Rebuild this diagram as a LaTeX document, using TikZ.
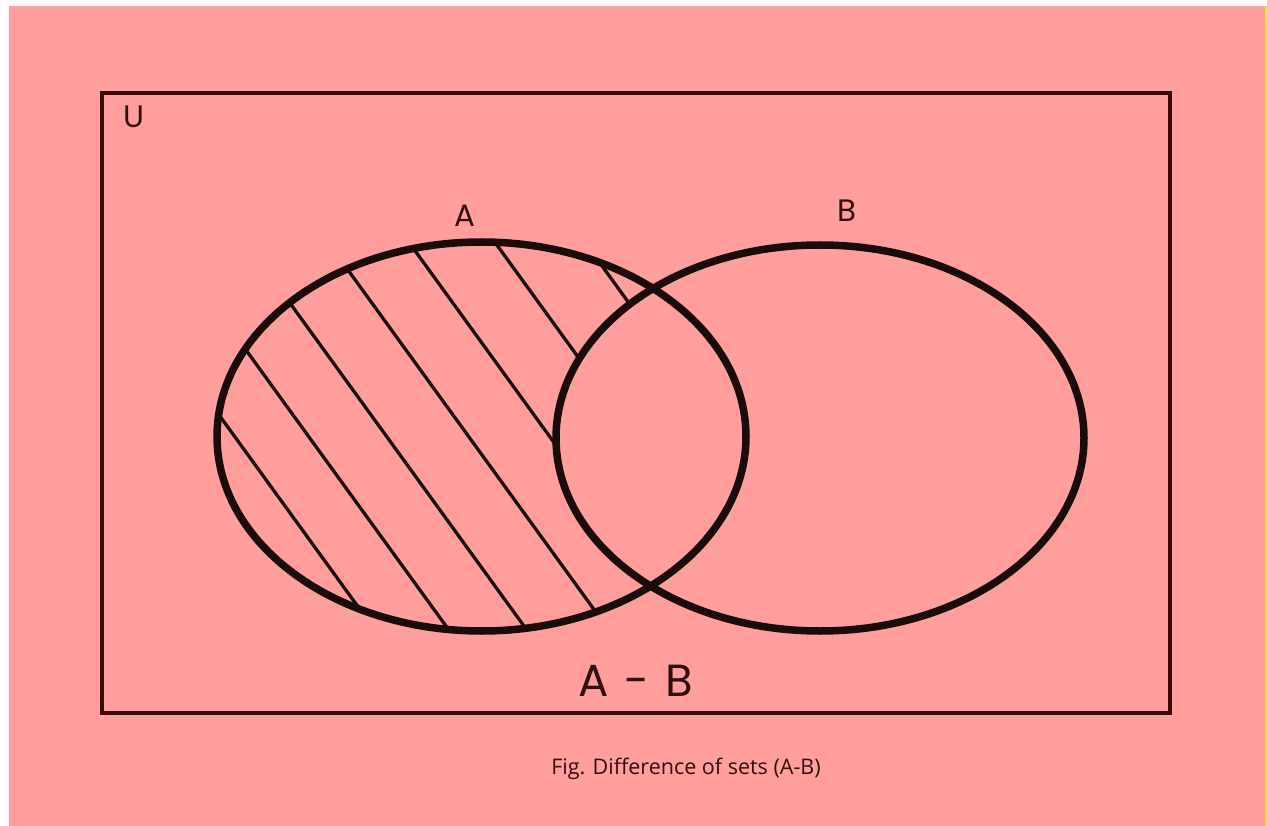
\documentclass[tikz,border=0pt]{standalone}
\usepackage{fontspec}
\setmainfont{Open Sans}
\newfontfamily\geofont{Poppins}
\definecolor{bgpink}{RGB}{255,158,156}
\definecolor{inkdark}{RGB}{26,12,10}
\definecolor{framebrown}{RGB}{58,10,6}
\definecolor{textbrown}{RGB}{50,14,14}
\definecolor{edgeyellow}{RGB}{250,220,80}
\begin{document}
\begin{tikzpicture}[x=1pt,y=-1pt,
  setline/.style={draw=inkdark,line width=7.5pt},
  hatchline/.style={draw=inkdark,line width=3.3pt},
  framebox/.style={draw=framebrown,line width=3.5pt},
  setlabel/.style={text=textbrown,font=\geofont\fontsize{31}{34}\selectfont,inner sep=0pt},
  biglabel/.style={text=textbrown,font=\geofont\fontsize{45}{48}\selectfont,inner sep=0pt},
  caption/.style={text=textbrown,font=\fontsize{21.5}{24}\selectfont,inner sep=0pt}]
\useasboundingbox (0,0) rectangle (1267,826);
\fill[white] (0,0) rectangle (1267,826);
\fill[bgpink] (9,6) rectangle (1265,826);
\fill[edgeyellow] (1265,6) rectangle (1267,826);
% universe
\draw[framebox] (102,93) rectangle (1170,713);
\coordinate (cA) at (481.5,436.5);
\coordinate (cB) at (820,438);
% hatching A - B
\begin{scope}
  \clip (cA) ellipse [x radius=264.5, y radius=194.5];
  \begin{scope}[even odd rule]
    \clip (0,0) rectangle (1267,826) (cB) ellipse [x radius=264, y radius=193];
    \foreach \x in {235,309,387,469,550,636,726}{
      \draw[hatchline] (\x-250,437-345) -- (\x+250,437+345);
    }
  \end{scope}
\end{scope}
\draw[setline] (cA) ellipse [x radius=264.5, y radius=194.5];
\draw[setline] (cB) ellipse [x radius=264, y radius=193];
% labels
\node[setlabel] (lU) at (134,117) {U};
\node[setlabel] (lA) at (465,216) {A};
\node[setlabel] (lB) at (847,211) {B};
\node[biglabel] (diff) at (636,681) {A\hspace{0.35em}-\hspace{0.35em}B};
\node[caption] (cap) at (686,769) {Fig. Difference of sets (A-B)};
\end{tikzpicture}
\end{document}
